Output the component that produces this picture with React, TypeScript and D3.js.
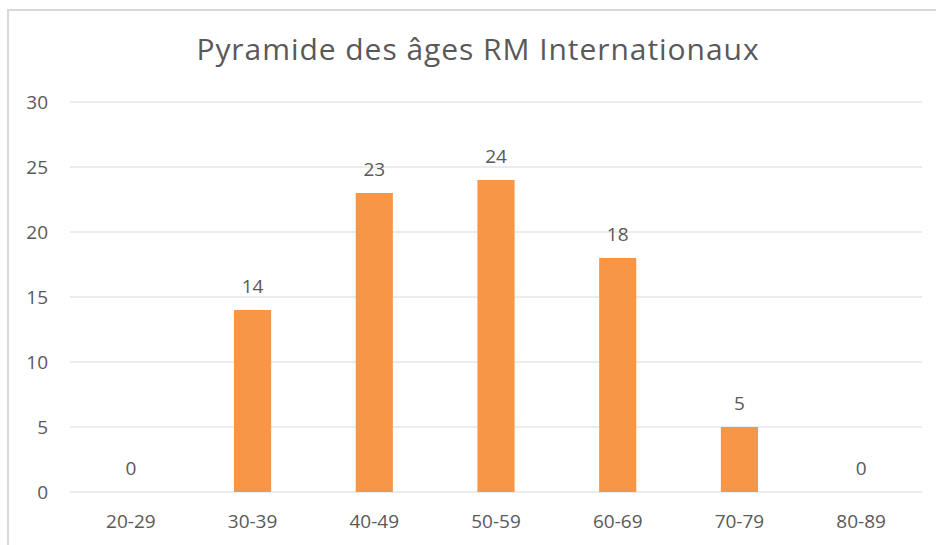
import * as d3 from 'd3'

const categories = ['20-29', '30-39', '40-49', '50-59', '60-69', '70-79', '80-89']
const values = [0, 14, 23, 24, 18, 5, 0]
const yTicks = [0, 5, 10, 15, 20, 25, 30]
const title = 'Pyramide des âges RM Internationaux'

export default function App() {
  const width = 936
  const height = 545
  const margin = { top: 102, right: 14, bottom: 53, left: 70 }
  const innerW = width - margin.left - margin.right
  const innerH = height - margin.top - margin.bottom

  const x = d3.scaleBand<string>().domain(categories).range([0, innerW]).paddingInner(0.695).paddingOuter(0.3475)
  const y = d3.scaleLinear().domain([0, 30]).range([innerH, 0])

  const font = "'Open Sans', sans-serif"
  const textColor = '#595959'

  return (
    <svg width={width} height={height} style={{ position: 'absolute', left: 0, top: 0, background: '#fff' }}>
      <rect x={0} y={0} width={width} height={height} fill="#fff" />
      {/* chart border */}
      <line x1={8} x2={8} y1={9} y2={height} stroke="#d9d9d9" strokeWidth={2} />
      <line x1={7} x2={width} y1={10} y2={10} stroke="#d9d9d9" strokeWidth={2} />
      <text x={478} y={60} textAnchor="middle" fontFamily={font} fontSize={30} letterSpacing={0.95} fill={textColor}>
        {title}
      </text>
      <g transform={`translate(${margin.left},${margin.top})`}>
        {yTicks.map(t => (
          <g key={t}>
            <line x1={0} x2={innerW} y1={y(t)} y2={y(t)} stroke="#d9d9d9" strokeWidth={1} />
            <text x={-22} y={y(t)} dy="0.35em" textAnchor="end" fontFamily={font} fontSize={19} fill={textColor}>
              {t}
            </text>
          </g>
        ))}
        {categories.map((c, i) => (
          <g key={c}>
            <rect
              x={x(c)}
              y={y(values[i])}
              width={x.bandwidth()}
              height={innerH - y(values[i])}
              fill="#f79646"
            />
            <text
              x={(x(c) ?? 0) + x.bandwidth() / 2}
              y={y(values[i]) - 17}
              textAnchor="middle"
              fontFamily={font}
              fontSize={19}
              fill={textColor}
            >
              {values[i]}
            </text>
            <text
              x={(x(c) ?? 0) + x.bandwidth() / 2}
              y={innerH + 36}
              textAnchor="middle"
              fontFamily={font}
              fontSize={19}
              fill={textColor}
            >
              {c}
            </text>
          </g>
        ))}
      </g>
    </svg>
  )
}
